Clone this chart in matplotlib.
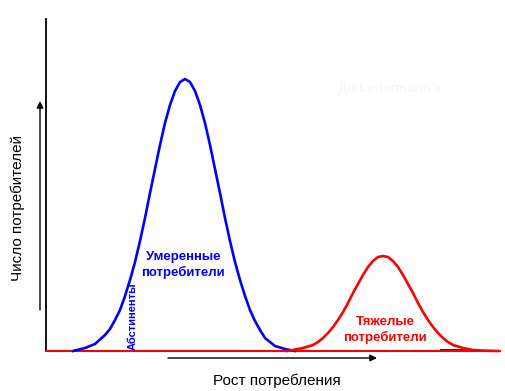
import matplotlib
matplotlib.use('Agg')
import matplotlib.pyplot as plt

plt.rcParams['font.family'] = ['Liberation Sans', 'DejaVu Sans']

# moderate drinkers curve (x = consumption, y = number of drinkers)
moderate_x = [27, 39, 49, 59, 64, 69, 74, 79, 84, 89, 94, 99, 104, 109, 114, 119, 124,
              129, 134, 139, 144, 149, 154, 159, 164, 169, 174, 179, 184, 189, 194,
              199, 204, 209, 214, 219, 229, 239, 249]
moderate_y = [0, 3, 7, 16, 22, 31, 41, 55, 71, 89, 110, 133, 158, 182, 206, 228, 246,
              260, 269, 272, 269, 260, 246, 228, 206, 182, 158, 133, 110, 89, 71,
              55, 41, 30, 21, 13, 5, 2, 0]

# heavy drinkers curve
heavy_x = [241, 247, 257, 267, 272, 277, 282, 287, 292, 297, 302, 307, 312, 317, 322,
           327, 332, 337, 342, 347, 352, 357, 362, 367, 372, 377, 382, 387, 392, 397,
           402, 407, 417, 427, 437, 452]
heavy_y = [0, 1, 3, 6, 9, 13, 18, 24, 31, 39, 48, 58, 67, 76, 84,
           90, 94, 95, 94, 90, 84, 76, 67, 58, 48, 39, 31, 24, 18, 13,
           9, 6, 3, 1, 0.4, 0]

fig = plt.figure(figsize=(5.06, 3.91), dpi=100)
ax = fig.add_axes([46 / 506, 40 / 391, 454 / 506, 332 / 391])
ax.set_xlim(0, 454)
ax.set_ylim(0, 332)

ax.plot(moderate_x, moderate_y, color='#0000ff', linewidth=1.9, clip_on=False,
        zorder=3, solid_joinstyle='round')
ax.plot(heavy_x, heavy_y, color='#ff0000', linewidth=1.9, clip_on=False,
        zorder=3, solid_joinstyle='round')
ax.hlines(0.6, 394, 430, color='#0000a0', linewidth=1.3, zorder=2)

for s in ['top', 'right']:
    ax.spines[s].set_visible(False)
ax.spines['left'].set_color('black')
ax.spines['left'].set_linewidth(1.3)
ax.spines['bottom'].set_color('#ff0000')
ax.spines['bottom'].set_linewidth(1.5)
ax.set_xticks([])
ax.set_yticks([])

# arrows
ax.annotate('', xy=(-6, 250), xytext=(-6, 41), annotation_clip=False,
            arrowprops=dict(arrowstyle='-|>', color='black', lw=1,
                            mutation_scale=10, shrinkA=0, shrinkB=0))
ax.annotate('', xy=(331, -7), xytext=(122, -7), annotation_clip=False,
            arrowprops=dict(arrowstyle='-|>', color='black', lw=1,
                            mutation_scale=10, shrinkA=0, shrinkB=0))

# labels
fig.text(18 / 506, 1 - 208 / 391, 'Число потребителей', rotation=90,
         ha='center', va='center', fontsize=11, color='black')
fig.text(277 / 506, 1 - 381 / 391, 'Рост потребления',
         ha='center', va='center', fontsize=11, color='black')

ax.text(137, 86, 'Умеренные\nпотребители', color='#0000ff', fontsize=9.5,
        fontweight='bold', ha='center', va='center', linespacing=1.25)
ax.text(87, 0.5, 'Абстиненты', color='#0000ff', fontsize=8,
        fontweight='bold', rotation=90, ha='center', va='bottom')
ax.text(339, 21, 'Тяжелые\nпотребители', color='#ff0000', fontsize=9.5,
        fontweight='bold', ha='center', va='center', linespacing=1.25)
ax.text(344, 262, "До Ledermann'a", color='#f7f7f7', fontsize=9.5,
        fontweight='bold', ha='center', va='center')

fig.savefig('out.png', dpi=100)
